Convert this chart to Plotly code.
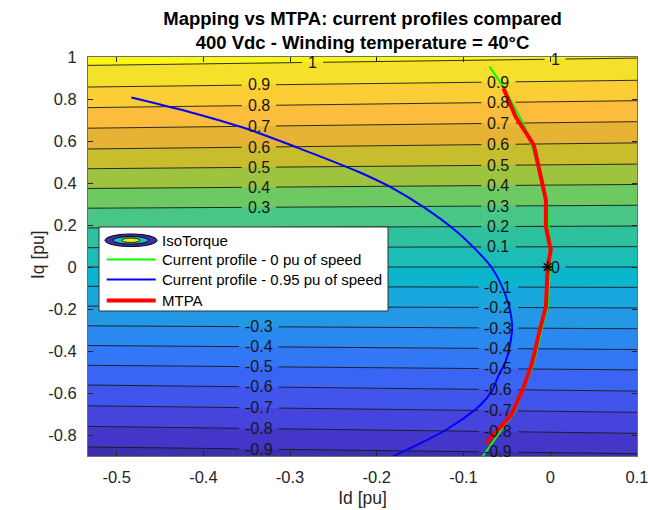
import numpy as np
import plotly.graph_objects as go

# ---------------- data ----------------
# torque levels of the iso-torque map and the Iq where each level crosses
# the left (Id=-0.533) and right (Id=0.1) borders of the map
torque_levels = [-1.0, -0.9, -0.8, -0.7, -0.6, -0.5, -0.4, -0.3, -0.2, -0.1, 0.0,
                 0.1, 0.2, 0.3, 0.4, 0.5, 0.6, 0.7, 0.8, 0.9, 1.0, 1.1]
map_id_edges = [-0.533, 0.1]
iq_left = [-0.960, -0.857, -0.759, -0.661, -0.562, -0.468, -0.374, -0.280, -0.186, -0.092, 0.0,
           0.092, 0.186, 0.280, 0.374, 0.468, 0.562, 0.661, 0.759, 0.857, 0.960, 1.063]
iq_right = [-0.995, -0.889, -0.792, -0.692, -0.591, -0.490, -0.393, -0.294, -0.195, -0.097, 0.0,
            0.097, 0.195, 0.294, 0.393, 0.490, 0.591, 0.692, 0.792, 0.889, 0.995, 1.100]

# current profile at 0.95 pu of speed (blue)
blue_id = [-0.483, -0.415, -0.350, -0.290, -0.220, -0.184, -0.146, -0.107, -0.085, -0.068,
           -0.057, -0.048, -0.044, -0.046, -0.051, -0.060, -0.067, -0.080, -0.098, -0.120,
           -0.143, -0.165, -0.187]
blue_iq = [0.807, 0.737, 0.658, 0.566, 0.451, 0.380, 0.285, 0.166, 0.079, 0.0,
           -0.080, -0.180, -0.280, -0.360, -0.445, -0.520, -0.588, -0.655, -0.715, -0.775,
           -0.826, -0.870, -0.913]

# current profile at 0 pu of speed (green)
green_id = [-0.070, -0.053, -0.030, -0.021, -0.004, -0.002, 0.001, 0.0, -0.003, -0.011,
            -0.019, -0.031, -0.043, -0.051, -0.067, -0.078]
green_iq = [0.954, 0.851, 0.676, 0.573, 0.320, 0.190, 0.080, 0.0, -0.190, -0.316,
            -0.459, -0.586, -0.705, -0.744, -0.840, -0.903]

# MTPA (red)
mtpa_id = [-0.054, -0.040, -0.019, -0.005, -0.005, 0.0006, -0.003, -0.005, -0.013, -0.021,
           -0.032, -0.045, -0.074]
mtpa_iq = [0.851, 0.716, 0.581, 0.319, 0.192, 0.081, 0.001, -0.189, -0.316, -0.459,
           -0.586, -0.705, -0.840]

star_id = [-0.003]
star_iq = [0.0]

x_tick_vals = [-0.5, -0.4, -0.3, -0.2, -0.1, 0.0, 0.1]
x_tick_text = ["-0.5", "-0.4", "-0.3", "-0.2", "-0.1", "0", "0.1"]
y_tick_vals = [-0.8, -0.6, -0.4, -0.2, 0.0, 0.2, 0.4, 0.6, 0.8, 1.0]
y_tick_text = ["-0.8", "-0.6", "-0.4", "-0.2", "0", "0.2", "0.4", "0.6", "0.8", "1"]

legend_names = ["IsoTorque", "Current profile - 0 pu of speed",
                "Current profile - 0.95 pu of speed", "MTPA"]

# fill colour of each band: below -0.9, -0.9..-0.8, ..., 0.9..1.0, above 1.0
band_colors = ['#3d2eab', '#4336c8', '#4544dd', '#4154ec', '#3a65f4', '#3277f6', '#2a89f0',
               '#2399e6', '#19a8dd', '#0bb5cd', '#1bbdb6', '#2ec19f', '#47c686', '#6dc962',
               '#9ec33f', '#c8bd2d', '#e6b334', '#fbbd3b', '#fcce35', '#f5e12a', '#f8f517']

# ---------------- layout constants ----------------
W, H = 648, 510
ML, MR, MT, MB = 88, 11, 57, 54
PW, PH = W - ML - MR, H - MT - MB
XR = [-0.533, 0.1]
YR = [-0.9, 1.0]
FONT = "Liberation Sans, Arial, Helvetica, sans-serif"
LABEL_FS = 16
TICK_FS = 16.5


def paper_x(px):
    return (px - ML) / PW


def paper_y(py):
    return (H - MB - py) / PH


def px_per_x():
    return PW / (XR[1] - XR[0])


# ---------------- build the torque field ----------------
iq_grid = np.arange(-0.95, 1.06, 0.0025)
col_left = np.interp(iq_grid, iq_left, torque_levels)
col_right = np.interp(iq_grid, iq_right, torque_levels)
z = np.column_stack([col_left, col_right])

n_lv = 20  # contour levels -0.9 .. 1.0
colorscale = [[k / n_lv, band_colors[k]] for k in range(n_lv + 1)]

fig = go.Figure()
fig.add_trace(go.Contour(
    x=map_id_edges, y=iq_grid, z=z, name=legend_names[0],
    contours=dict(start=-0.9, end=1.0, size=0.1, coloring='fill', showlines=False),
    colorscale=colorscale, showscale=False, line=dict(width=0),
    hoverinfo='skip', showlegend=False))

# ---------------- contour lines with gaps for labels ----------------
draw_levels = torque_levels[1:-1]
lx0, lx1 = map_id_edges


def iq_on_level(i_full, x):
    a, b = iq_left[i_full], iq_right[i_full]
    return a + (x - lx0) / (lx1 - lx0) * (b - a)


def label_text(lv):
    if abs(lv) < 1e-9:
        return "0"
    if abs(lv - 1.0) < 1e-9:
        return "1"
    return "%.1f" % lv


def text_px_width(s, fs):
    w = 0
    for ch in s:
        if ch == '.':
            w += 0.278
        elif ch == '-':
            w += 0.333
        else:
            w += 0.556
    return w * fs


line_x, line_y = [], []
label_ann = []
for j, lv in enumerate(draw_levels):
    i_full = j + 1
    if abs(lv - 1.0) < 1e-9:
        cols = [-0.274, 0.0055]
    elif abs(lv) < 1e-9:
        cols = [-0.336, 0.0055]
    else:
        cols = [-0.336, -0.0597]
    txt = label_text(lv)
    half = (text_px_width(txt, LABEL_FS) / 2 + 6) / px_per_x()
    pts = [lx0]
    for c in cols:
        pts += [c - half, c + half]
    pts += [lx1]
    for k in range(0, len(pts), 2):
        a, b = pts[k], pts[k + 1]
        line_x += [a, b, None]
        line_y += [iq_on_level(i_full, a), iq_on_level(i_full, b), None]
    for ci, c in enumerate(cols):
        if ci == 0 and abs(lv) < 0.25:
            continue  # hidden behind the legend
        label_ann.append(dict(x=c, y=iq_on_level(i_full, c), text=txt, showarrow=False,
                              xref='x', yref='y', xanchor='center', yanchor='middle',
                              font=dict(family=FONT, size=LABEL_FS, color='#161616')))

fig.add_trace(go.Scatter(x=line_x, y=line_y, mode='lines',
                         line=dict(color='#1a1a1a', width=0.9),
                         hoverinfo='skip', showlegend=False))

# ---------------- current profiles ----------------
fig.add_trace(go.Scatter(x=green_id, y=green_iq, mode='lines', name=legend_names[1],
                         line=dict(color='#00ff00', width=2), showlegend=False))
fig.add_trace(go.Scatter(x=blue_id, y=blue_iq, mode='lines', line_shape='spline',
                         name=legend_names[2], line=dict(color='#0000ff', width=2),
                         showlegend=False))
fig.add_trace(go.Scatter(x=mtpa_id, y=mtpa_iq, mode='lines', name=legend_names[3],
                         line=dict(color='#ff0000', width=4), showlegend=False))
fig.add_trace(go.Scatter(x=star_id, y=star_iq, mode='markers', showlegend=False,
                         marker=dict(symbol='asterisk-open', size=9, color='black',
                                     line=dict(color='black', width=1.4))))

# ---------------- legend (box, icons, text) ----------------
row_y = [240.3, 259.6, 279.6, 300.6]
shapes = [
    dict(type='rect', xref='paper', yref='paper', layer='above',
         x0=paper_x(99), x1=paper_x(388), y0=paper_y(311), y1=paper_y(227),
         fillcolor='white', line=dict(color='#333333', width=1)),
    dict(type='circle', xref='paper', yref='paper', layer='above',
         x0=paper_x(105), x1=paper_x(157), y0=paper_y(row_y[0] + 6.3), y1=paper_y(row_y[0] - 6.3),
         fillcolor='#3d2eab', line=dict(color='black', width=1)),
    dict(type='circle', xref='paper', yref='paper', layer='above',
         x0=paper_x(113), x1=paper_x(148.5), y0=paper_y(row_y[0] + 3.9), y1=paper_y(row_y[0] - 3.9),
         fillcolor='#1bbdc0', line=dict(color='black', width=1)),
    dict(type='circle', xref='paper', yref='paper', layer='above',
         x0=paper_x(121.7), x1=paper_x(140), y0=paper_y(row_y[0] + 2.2), y1=paper_y(row_y[0] - 2.2),
         fillcolor='#f5e51a', line=dict(color='black', width=0.8)),
]
legend_line_styles = [None, ('#00ff00', 2), ('#0000ff', 2), ('#ff0000', 4)]
legend_ann = []
for k, name in enumerate(legend_names):
    sty = legend_line_styles[k]
    if sty is not None:
        shapes.append(dict(type='line', xref='paper', yref='paper', layer='above',
                           x0=paper_x(106.7), x1=paper_x(155.7),
                           y0=paper_y(row_y[k]), y1=paper_y(row_y[k]),
                           line=dict(color=sty[0], width=sty[1])))
    legend_ann.append(dict(x=paper_x(160), y=paper_y(row_y[k]), xref='paper', yref='paper',
                           text=name, showarrow=False, xanchor='left', yanchor='middle',
                           font=dict(family=FONT, size=15, color='#000000')))

# y-axis title placed as rotated text
axis_ann = [dict(x=paper_x(38), y=paper_y(255), xref='paper', yref='paper',
                 text='Iq [pu]', showarrow=False, textangle=-90,
                 xanchor='center', yanchor='middle',
                 font=dict(family=FONT, size=17.5, color='#262626'))]

fig.update_layout(
    width=W, height=H,
    margin=dict(l=ML, r=MR, t=MT, b=MB, pad=0, autoexpand=False),
    paper_bgcolor='white', plot_bgcolor='white',
    showlegend=False,
    font=dict(family=FONT, size=TICK_FS, color='#262626'),
    title=dict(text="<b>Mapping vs MTPA: current profiles compared</b><br>"
                    "<b>400 Vdc - Winding temperature = 40°C</b>",
               x=(ML + PW / 2) / W, xanchor='center',
               y=1 - 25 / H, yanchor='middle',
               font=dict(family=FONT, size=18.5, color='#000000')),
    xaxis=dict(range=XR, tickvals=x_tick_vals, ticktext=x_tick_text,
               showgrid=False, zeroline=False, showline=True, linecolor='#707070',
               linewidth=1, mirror='allticks', ticks='inside', ticklen=5,
               tickcolor='#262626', ticklabelstandoff=6, ticklabeloverflow='allow',
               automargin=False, tickfont=dict(size=TICK_FS),
               title=dict(text='Id [pu]', standoff=6, font=dict(size=17.5))),
    yaxis=dict(range=YR, tickvals=y_tick_vals, ticktext=y_tick_text,
               showgrid=False, zeroline=False, showline=True, linecolor='#707070',
               linewidth=1, mirror='allticks', ticks='inside', ticklen=5,
               tickcolor='#262626', ticklabelstandoff=7, automargin=False,
               tickfont=dict(size=TICK_FS)),
    shapes=shapes,
    annotations=label_ann + legend_ann + axis_ann,
)

fig.write_html("out.html")
